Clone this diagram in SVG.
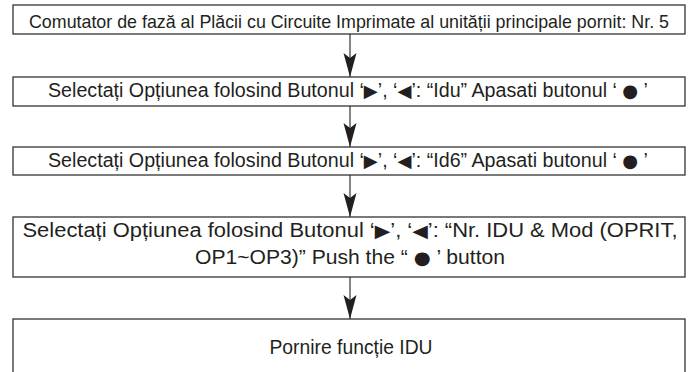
<svg xmlns="http://www.w3.org/2000/svg" width="693" height="372" viewBox="0 0 693 372">
<style>
.box{fill:#fff;stroke:#333;stroke-width:1.3}
.t{font-family:"Liberation Sans",Arial,"DejaVu Sans",sans-serif;font-size:19.5px;fill:#231f20;text-anchor:middle}
.s{font-family:"DejaVu Sans",sans-serif;font-size:18px}
.c{stroke:#231f20;stroke-width:1.1;fill:none}
</style>
<defs>
<marker id="ah" markerUnits="userSpaceOnUse" markerWidth="30" markerHeight="16" viewBox="-25 -8 26 16" refX="0" refY="0" orient="auto">
<path d="M0,0 L-24,-6.5 L-19,0 L-24,6.5 Z" fill="#231f20"/>
</marker>
</defs>
<rect width="693" height="372" fill="#fff"/>
<g id="connectors">
<line class="c" x1="350" y1="34" x2="350" y2="77" marker-end="url(#ah)"/>
<line class="c" x1="350" y1="106" x2="350" y2="147" marker-end="url(#ah)"/>
<line class="c" x1="350" y1="175" x2="350" y2="217" marker-end="url(#ah)"/>
<line class="c" x1="350" y1="277" x2="350" y2="319" marker-end="url(#ah)"/>
</g>
<g id="n1">
<rect class="box" x="13" y="5" width="672" height="29"/>
<text class="t" x="349" y="27.5" style="font-size:18.5px" textLength="640" lengthAdjust="spacingAndGlyphs">Comutator de fază al Plăcii cu Circuite Imprimate al unității principale pornit: Nr. 5</text>
</g>
<g id="n2">
<rect class="box" x="13" y="77" width="672" height="29"/>
<text class="t" x="348" y="97" textLength="600" lengthAdjust="spacingAndGlyphs">Selectați Opțiunea folosind Butonul ‘<tspan class="s">▶</tspan>’, ‘<tspan class="s">◀</tspan>’: “Idu” Apasati butonul ‘ <tspan class="s">●</tspan> ’</text>
</g>
<g id="n3">
<rect class="box" x="13" y="147" width="672" height="28"/>
<text class="t" x="348" y="167" textLength="600" lengthAdjust="spacingAndGlyphs">Selectați Opțiunea folosind Butonul ‘<tspan class="s">▶</tspan>’, ‘<tspan class="s">◀</tspan>’: “Id6” Apasati butonul ‘ <tspan class="s">●</tspan> ’</text>
</g>
<g id="n4">
<rect class="box" x="13" y="217" width="672" height="60"/>
<text class="t" x="350" y="237" textLength="655" lengthAdjust="spacingAndGlyphs">Selectați Opțiunea folosind Butonul ‘<tspan class="s">▶</tspan>’, ‘<tspan class="s">◀</tspan>’: “Nr. IDU &amp; Mod (OPRIT,</text>
<text class="t" x="350" y="264" textLength="310" lengthAdjust="spacingAndGlyphs">OP1~OP3)” Push the “ <tspan class="s">●</tspan> ’ button</text>
</g>
<g id="n5">
<rect class="box" x="13" y="319" width="672" height="70"/>
<text class="t" x="351" y="354" textLength="163" lengthAdjust="spacingAndGlyphs">Pornire funcție IDU</text>
</g>
</svg>
